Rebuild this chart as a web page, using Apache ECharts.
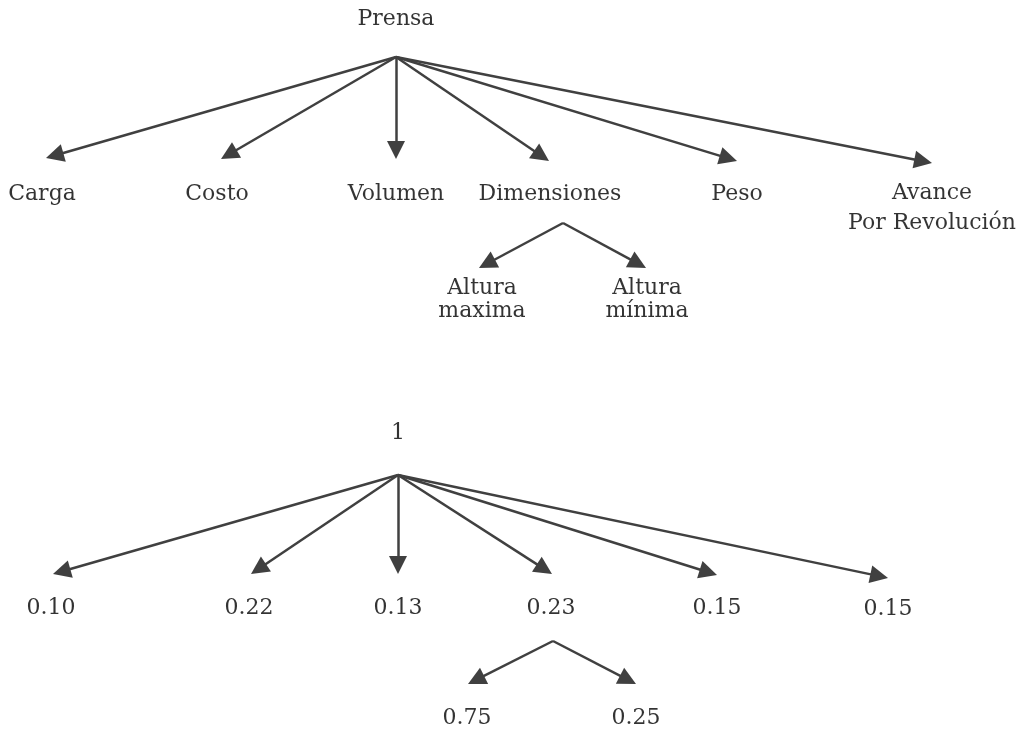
<!DOCTYPE html>
<html>
<head>
<meta charset="utf-8">
<script src="https://cdn.jsdelivr.net/npm/echarts@6/dist/echarts.min.js"></script>
<style>html,body{margin:0;padding:0;background:#fff;}#c{width:1029px;height:733px;}</style>
</head>
<body>
<div id="c"></div>
<script>
// ---- data ----
const goalName = 'Prensa';
const criteria = ['Carga', 'Costo', 'Volumen', 'Dimensiones', 'Peso', 'Avance\nPor Revolución'];
const subCriteria = ['Altura\nmaxima', 'Altura\nmínima'];
const subParentIndex = 3; // Dimensiones
const goalWeight = 1;
const criteriaWeights = [0.10, 0.22, 0.13, 0.23, 0.15, 0.15];
const subWeights = [0.75, 0.25];

// ---- layout (axis units = pixels of the picture) ----
const layoutTop = {
  root: [396, 57], rootLabel: [396, 19],
  tips: [[46, 158], [221, 159], [396, 159], [549, 161], [737, 161], [932, 163]],
  labels: [[42, 194], [217, 194], [396, 194], [550, 194], [737, 194], [932, 208]],
  subRoot: [563, 223],
  subTips: [[479, 268], [646, 268]],
  subLabels: [[482, 300], [647, 300]]
};
const layoutBottom = {
  root: [398, 475], rootLabel: [398, 433],
  tips: [[53, 574], [251, 574], [398, 574], [552, 574], [717, 575], [888, 578]],
  labels: [[51, 608], [249, 608], [398, 608], [551, 608], [717, 608], [888, 609]],
  subRoot: [553, 641],
  subTips: [[468, 684], [636, 684]],
  subLabels: [[467, 718], [636, 718]]
};
const ARROW = 18;
const LINE_COLOR = '#404040';
const FONT = 'DejaVu Serif';

function pullBack(from, tip) {
  const dx = tip[0] - from[0], dy = tip[1] - from[1];
  const len = Math.sqrt(dx * dx + dy * dy);
  return [tip[0] - dx / len * ARROW / 2, tip[1] - dy / len * ARROW / 2];
}

function buildGraph(L) {
  const nodes = [], links = [];
  nodes.push({ name: 'root', value: L.root });
  L.tips.forEach((t, i) => {
    nodes.push({ name: 'c' + i, value: pullBack(L.root, t) });
    links.push({ source: 0, target: nodes.length - 1 });
  });
  const sr = nodes.length;
  nodes.push({ name: 'sr', value: L.subRoot });
  L.subTips.forEach((t, i) => {
    nodes.push({ name: 's' + i, value: pullBack(L.subRoot, t) });
    links.push({ source: sr, target: nodes.length - 1 });
  });
  return {
    type: 'graph', coordinateSystem: 'cartesian2d', layout: 'none', silent: true,
    symbolSize: 0, data: nodes, links: links,
    edgeSymbol: ['none', 'triangle'], edgeSymbolSize: [0, ARROW],
    lineStyle: { color: LINE_COLOR, width: 2.5, opacity: 1, curveness: 0 },
    itemStyle: { color: LINE_COLOR },
    label: { show: false }
  };
}

function buildLabels(L, rootText, childTexts, subTexts) {
  const pts = [];
  const mk = (pos, text, lh) => ({ value: pos, name: text, label: { lineHeight: lh } });
  pts.push(mk(L.rootLabel, rootText, 24));
  childTexts.forEach((t, i) => pts.push(mk(L.labels[i], t, 30)));
  subTexts.forEach((t, i) => pts.push(mk(L.subLabels[i], t, 23)));
  return {
    type: 'scatter', silent: true, symbolSize: 0, data: pts,
    label: {
      show: true, position: 'inside', formatter: p => p.name,
      fontFamily: FONT, fontSize: 22, color: '#000', align: 'center', verticalAlign: 'middle'
    }
  };
}

const fmt = v => v.toFixed(2);
const chart = echarts.init(document.getElementById('c'), null, { renderer: 'canvas' });
chart.setOption({
  animation: false,
  backgroundColor: '#fff',
  grid: { left: 0, right: 0, top: 0, bottom: 0 },
  xAxis: { type: 'value', min: 0, max: 1029, show: false },
  yAxis: { type: 'value', min: 0, max: 733, inverse: true, show: false },
  series: [
    buildGraph(layoutTop),
    buildGraph(layoutBottom),
    buildLabels(layoutTop, goalName, criteria, subCriteria),
    buildLabels(layoutBottom, String(goalWeight), criteriaWeights.map(fmt), subWeights.map(fmt))
  ]
});
</script>
</body>
</html>
